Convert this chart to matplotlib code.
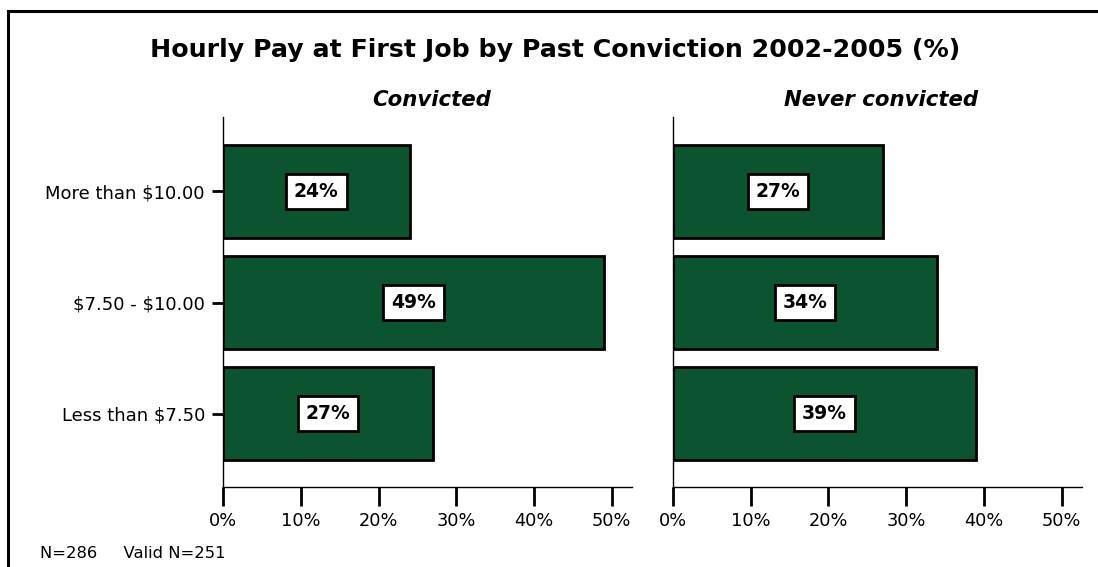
import matplotlib.pyplot as plt
from matplotlib.patches import Rectangle

# Pay brackets, bottom to top
categories = ['Less than \\$7.50', '\\$7.50 - \\$10.00', 'More than \\$10.00']
convicted = [27, 49, 24]
never_convicted = [39, 34, 27]
panel_titles = ['Convicted', 'Never convicted']
xticks = [0, 10, 20, 30, 40, 50]

bar_color = '#0c5430'

fig = plt.figure(figsize=(10.98, 5.67), dpi=100)

# outer frame (runs off the right and bottom edges)
fig.patches.append(Rectangle((8 / 1098, -0.05), 1.2, 1.05 - 11 / 567,
                             transform=fig.transFigure, fill=False,
                             edgecolor='black', linewidth=2.2))

fig.text(555 / 1098, 1 - 50 / 567, 'Hourly Pay at First Job by Past Conviction 2002-2005 (%)',
         ha='center', va='center', fontsize=18.2, fontweight='bold')

ax1 = fig.add_axes([0.2031, 0.1411, 0.3725, 0.6526])
ax2 = fig.add_axes([0.6129, 0.1411, 0.3725, 0.6526])

ypos = list(range(len(categories)))

for ax, vals, title in zip([ax1, ax2], [convicted, never_convicted], panel_titles):
    ax.barh(ypos, vals, height=0.84, color=bar_color, edgecolor='black', linewidth=2)
    for y, v in zip(ypos, vals):
        ax.text(v / 2, y, f'{v}%', ha='center', va='center', fontsize=13.5,
                fontweight='bold',
                bbox=dict(boxstyle='square,pad=0.42', facecolor='white',
                          edgecolor='black', linewidth=2))
    ax.set_xlim(0, 52.6)
    ax.set_ylim(-0.66, 2.67)
    ax.set_xticks(xticks)
    ax.set_xticklabels([f'{t}%' for t in xticks], fontsize=12.8)
    ax.tick_params(axis='x', length=14, width=2, pad=4)
    ax.spines['top'].set_visible(False)
    ax.spines['right'].set_visible(False)
    ax.spines['left'].set_linewidth(1)
    ax.spines['bottom'].set_linewidth(1)
    ax.text(0.51, 1 + 17 / 370, title, transform=ax.transAxes, ha='center',
            va='center', fontsize=15.3, fontweight='bold', style='italic')

ax1.set_yticks(ypos)
ax1.set_yticklabels(categories, fontsize=13)
ax1.tick_params(axis='y', length=8, width=2, pad=5)
ax2.set_yticks([])

fig.text(40 / 1098, 1 - 553 / 567, 'N=286     Valid N=251', ha='left', va='center',
         fontsize=11.8)

fig.savefig('out.png', dpi=100)
